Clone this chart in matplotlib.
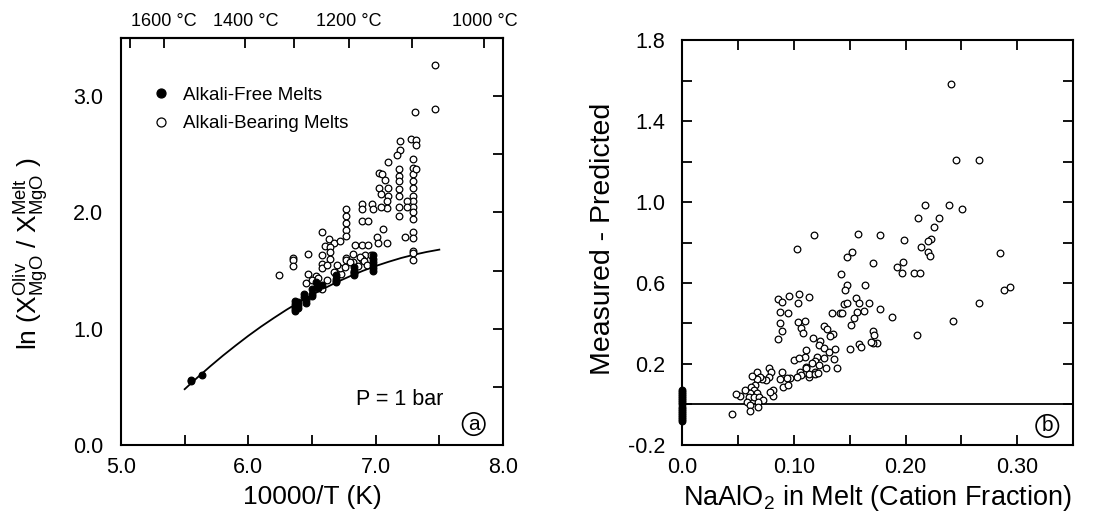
import matplotlib
matplotlib.use('Agg')
import matplotlib.pyplot as plt
from matplotlib.ticker import MultipleLocator
import numpy as np

plt.rcParams['font.family'] = ['Liberation Sans', 'DejaVu Sans']
plt.rcParams['mathtext.fontset'] = 'custom'
plt.rcParams['mathtext.rm'] = 'Liberation Sans'
plt.rcParams['mathtext.default'] = 'rm'

# ---- panel (a): ln(X_MgO olivine / X_MgO melt) vs 10000/T ----
free_x = [5.55, 5.55, 5.64,
          6.37, 6.37, 6.37, 6.37, 6.37, 6.39, 6.39, 6.39,
          6.44, 6.44, 6.45, 6.45, 6.50, 6.50, 6.50,
          6.53, 6.54, 6.55, 6.58,
          6.69, 6.69, 6.69, 6.69, 6.83, 6.83, 6.83, 6.83,
          6.98, 6.98, 6.98, 6.98, 6.98, 6.98]
free_y = [0.56, 0.55, 0.60,
          1.24, 1.21, 1.19, 1.17, 1.15, 1.23, 1.20, 1.18,
          1.30, 1.27, 1.25, 1.22, 1.34, 1.30, 1.28,
          1.40, 1.37, 1.35, 1.38,
          1.46, 1.43, 1.41, 1.40, 1.53, 1.50, 1.48, 1.46,
          1.63, 1.60, 1.57, 1.55, 1.52, 1.50]

bear_x = [7.47, 7.47, 7.31, 7.28, 7.32, 7.32, 7.19, 7.19, 7.17, 7.10,
          7.29, 7.29, 7.29, 7.29, 7.29, 7.29, 7.29, 7.29, 7.29, 7.29,
          7.29, 7.29, 7.29, 7.29, 7.29, 7.32,
          7.18, 7.18, 7.18, 7.18, 7.18, 7.18, 7.18,
          7.25, 7.25, 7.23, 7.10, 7.10, 7.03, 7.05, 7.07, 7.03, 7.04,
          7.09, 7.09, 6.97, 6.98, 7.04, 6.89, 6.89, 6.89, 6.94,
          6.77, 6.77, 6.77, 6.77, 6.77,
          7.06, 7.01, 7.02, 7.09,
          6.58, 6.63, 6.60, 6.67, 6.72, 6.84, 6.89, 6.94, 6.64, 6.58,
          6.35, 6.47, 6.64, 6.82, 6.92, 6.96, 6.77, 6.89,
          6.24, 6.35, 6.35, 6.47, 6.45, 6.53, 6.58, 6.58, 6.64, 6.58,
          6.67, 6.73, 6.72, 6.77, 6.82, 6.88, 6.91, 6.80, 6.83,
          6.50, 6.55, 6.62, 6.70, 6.76, 6.86, 6.93, 6.62]
bear_y = [3.27, 2.89, 2.86, 2.63, 2.62, 2.58, 2.61, 2.54, 2.49, 2.43,
          2.46, 2.385, 2.33, 2.27, 2.21, 2.14, 2.10, 2.05, 2.00, 1.94,
          1.83, 1.78, 1.67, 1.65, 1.59, 2.37,
          2.37, 2.31, 2.27, 2.20, 2.14, 2.05, 1.97,
          2.10, 2.05, 1.79, 2.21, 2.14, 2.34, 2.33, 2.28, 2.21, 2.16,
          2.10, 2.04, 2.07, 2.03, 2.05, 2.07, 2.03, 1.93, 1.93,
          2.03, 1.97, 1.91, 1.85, 1.80,
          1.86, 1.79, 1.74, 1.74,
          1.83, 1.77, 1.71, 1.74, 1.75, 1.72, 1.72, 1.72, 1.70, 1.63,
          1.61, 1.64, 1.66, 1.64, 1.63, 1.63, 1.61, 1.60,
          1.46, 1.59, 1.54, 1.47, 1.39, 1.45, 1.56, 1.52, 1.60, 1.34,
          1.49, 1.47, 1.52, 1.59, 1.57, 1.62, 1.58, 1.57, 1.49,
          1.42, 1.44, 1.42, 1.55, 1.53, 1.54, 1.55, 1.55]

# model curve
curve_x = [5.5, 5.6, 5.7, 5.8, 5.9, 6.0, 6.1, 6.2, 6.3, 6.4, 6.5,
           6.6, 6.7, 6.8, 6.9, 7.0, 7.1, 7.2, 7.3, 7.4, 7.5]
curve_y = [0.480, 0.580, 0.676, 0.768, 0.855, 0.939, 1.018, 1.092, 1.163, 1.229, 1.291,
           1.349, 1.403, 1.452, 1.498, 1.539, 1.575, 1.608, 1.636, 1.660, 1.680]

temp_ticks = [1700, 1600, 1400, 1300, 1200, 1100, 1000]
temp_labels = ['', '1600 \u00b0C', '1400 \u00b0C', '', '1200 \u00b0C', '', '1000 \u00b0C']

# ---- panel (b): residuals vs NaAlO2 ----
zero_y = [-0.08, -0.07, -0.06, -0.05, -0.04, -0.03, -0.02, -0.01, 0.0,
          0.01, 0.02, 0.03, 0.04, 0.05, 0.06, 0.07]

res_x = [0.2408, 0.245, 0.2656, 0.2178, 0.2393, 0.2507, 0.211, 0.2301, 0.2259, 0.1183,
         0.1575, 0.1775, 0.1984, 0.2232, 0.2202, 0.1028, 0.2142, 0.2202, 0.2222, 0.2844,
         0.152, 0.1476, 0.171, 0.1924, 0.1975, 0.1969, 0.2073, 0.2133, 0.1425, 0.164,
         0.1476, 0.146, 0.2934, 0.288, 0.2656, 0.2423, 0.2104,
         0.0863, 0.0893, 0.0955, 0.0875, 0.0947, 0.0878, 0.0893, 0.0863, 0.1049, 0.1132,
         0.104, 0.104, 0.1096, 0.1064, 0.1082, 0.1171, 0.1237, 0.1222, 0.1267, 0.1297,
         0.1351, 0.134, 0.141, 0.143, 0.1365, 0.1362, 0.1386, 0.1446, 0.1476, 0.156,
         0.1587, 0.1566, 0.1536, 0.1515, 0.150, 0.1625, 0.158, 0.1602, 0.1676, 0.1769,
         0.1706, 0.1718, 0.1745, 0.171, 0.1688, 0.1882, 0.1327,
         0.1267, 0.1311, 0.1267, 0.1207, 0.1192, 0.1162, 0.1222, 0.1192, 0.1132, 0.1111,
         0.1087, 0.1111, 0.1102, 0.1058, 0.1064, 0.1028, 0.0998, 0.1043, 0.0968, 0.0938,
         0.0908, 0.0947, 0.0893, 0.0818, 0.0812, 0.0783, 0.0774, 0.0795, 0.0774, 0.0753,
         0.0714, 0.0669, 0.0699, 0.0669, 0.0624, 0.0654, 0.0618, 0.0648, 0.0675, 0.0612,
         0.0597, 0.0642, 0.0693, 0.0729, 0.0684, 0.058, 0.0565, 0.052, 0.0481, 0.0606,
         0.0684, 0.0606, 0.0445, 0.0878, 0.1108, 0.114, 0.119, 0.122, 0.1288]
res_y = [1.583, 1.207, 1.207, 0.987, 0.987, 0.965, 0.919, 0.922, 0.878, 0.837,
         0.840, 0.837, 0.812, 0.815, 0.808, 0.766, 0.779, 0.752, 0.733, 0.747,
         0.752, 0.727, 0.697, 0.680, 0.702, 0.648, 0.648, 0.648, 0.644, 0.590,
         0.590, 0.565, 0.579, 0.565, 0.503, 0.414, 0.343,
         0.520, 0.505, 0.536, 0.458, 0.450, 0.404, 0.364, 0.322, 0.544, 0.532,
         0.500, 0.409, 0.412, 0.376, 0.352, 0.330, 0.315, 0.294, 0.388, 0.371,
         0.347, 0.450, 0.450, 0.450, 0.274, 0.225, 0.179, 0.495, 0.500, 0.524,
         0.500, 0.458, 0.429, 0.393, 0.272, 0.462, 0.299, 0.282, 0.503, 0.470,
         0.364, 0.343, 0.306, 0.302, 0.310, 0.431, 0.338,
         0.277, 0.261, 0.228, 0.236, 0.216, 0.203, 0.195, 0.162, 0.137, 0.187,
         0.154, 0.269, 0.236, 0.161, 0.146, 0.137, 0.220, 0.228, 0.132, 0.132,
         0.088, 0.096, 0.162, 0.072, 0.043, 0.064, 0.182, 0.162, 0.137, 0.120,
         0.128, 0.162, 0.137, 0.128, 0.140, 0.096, 0.088, 0.072, 0.056, 0.056,
         0.039, 0.039, 0.039, 0.022, 0.014, 0.014, 0.072, 0.043, 0.051, -0.002,
         -0.010, -0.032, -0.047, 0.128, 0.178, 0.150, 0.150, 0.157, 0.179]

fig = plt.figure(figsize=(11.04, 5.19), dpi=100)
ax1 = fig.add_axes([0.1096, 0.1426, 0.346, 0.7842])
ax2 = fig.add_axes([0.6178, 0.1426, 0.3542, 0.7803])

ms = 4.8
tick_fs = 15.5
# (a)
ax1.plot(bear_x, bear_y, 'o', ls='none', ms=ms, mfc='white', mec='black', mew=0.9,
         label='Alkali-Bearing Melts', zorder=3)
ax1.plot(free_x, free_y, 'o', ls='none', ms=ms, mfc='black', mec='black', mew=0.9,
         label='Alkali-Free Melts', zorder=4)
ax1.plot(curve_x, curve_y, color='black', lw=1.3, zorder=2)
ax1.set_xlim(5, 8)
ax1.set_ylim(0, 3.5)
ax1.set_xticks([5, 6, 7, 8])
ax1.set_xticklabels(['5.0', '6.0', '7.0', '8.0'])
ax1.set_yticks([0, 1, 2, 3])
ax1.set_yticklabels(['0.0', '1.0', '2.0', '3.0'])
ax1.xaxis.set_minor_locator(MultipleLocator(0.5))
ax1.yaxis.set_minor_locator(MultipleLocator(0.5))
ax1.tick_params(axis='both', which='both', direction='in', length=7, width=1.3,
                labelsize=tick_fs, top=False, right=True)
ax1.tick_params(axis='y', which='both', left=False, pad=13)
ax1.tick_params(axis='x', pad=9)
ax1.set_xlabel('10000/T (K)', fontsize=19, labelpad=5)
ax1.set_ylabel(r'ln ($X^{Oliv}_{MgO}$ / $X^{Melt}_{MgO}$ )', fontsize=19)
ax1.yaxis.set_label_coords(-0.185, 0.47)

top = ax1.secondary_xaxis('top', functions=(lambda v: 10000.0 / v - 273.15,
                                              lambda t: 10000.0 / (t + 273.15)))
top.set_xticks(temp_ticks)
top.set_xticklabels(temp_labels)
top.tick_params(direction='in', length=7, width=1.3, labelsize=13, pad=6)

h, l = ax1.get_legend_handles_labels()
ax1.legend(h[::-1], l[::-1], loc='upper left', bbox_to_anchor=(0.08, 0.88),
           frameon=False, fontsize=13.5, handlelength=1.0, handletextpad=0.67,
           labelspacing=0.6, borderpad=0, borderaxespad=0, markerscale=1.35)
ax1.text(7.19, 0.39, 'P = 1 bar', fontsize=15.5, ha='center', va='center')
ax1.text(7.77, 0.18, 'a', fontsize=15, ha='center', va='center',
         bbox=dict(boxstyle='circle,pad=0.08', fc='white', ec='black', lw=1.2))

# (b)
ax2.axhline(0, color='black', lw=1.3, zorder=1)
ax2.plot(res_x, res_y, 'o', ls='none', ms=ms, mfc='white', mec='black', mew=0.9, zorder=3)
ax2.plot(np.zeros(len(zero_y)), zero_y, 'o', ls='none', ms=ms, mfc='black', mec='black',
         mew=0.9, zorder=4, clip_on=False)
ax2.set_xlim(0, 0.35)
ax2.set_ylim(-0.2, 1.8)
ax2.set_xticks([0, 0.1, 0.2, 0.3])
ax2.set_xticklabels(['0.0', '0.10', '0.20', '0.30'])
ax2.set_yticks([-0.2, 0.2, 0.6, 1.0, 1.4, 1.8])
ax2.set_yticklabels(['-0.2', '0.2', '0.6', '1.0', '1.4', '1.8'])
ax2.xaxis.set_minor_locator(MultipleLocator(0.05))
ax2.yaxis.set_minor_locator(MultipleLocator(0.2))
ax2.tick_params(axis='both', which='both', direction='in', length=7, width=1.3,
                labelsize=tick_fs, top=True, right=True)
ax2.tick_params(axis='y', pad=12)
ax2.tick_params(axis='x', pad=9)
ax2.set_xlabel(r'NaAlO$_2$ in Melt (Cation Fraction)', fontsize=19.5, labelpad=3)
ax2.set_ylabel('Measured - Predicted', fontsize=20.5)
ax2.yaxis.set_label_coords(-0.17, 0.51)
ax2.text(0.3269, -0.106, 'b', fontsize=15, ha='center', va='center',
         bbox=dict(boxstyle='circle,pad=0.08', fc='white', ec='black', lw=1.2))

for ax in (ax1, ax2):
    for sp in ax.spines.values():
        sp.set_linewidth(1.5)
top.spines['top'].set_linewidth(1.5)

fig.savefig('out.png', dpi=100)
